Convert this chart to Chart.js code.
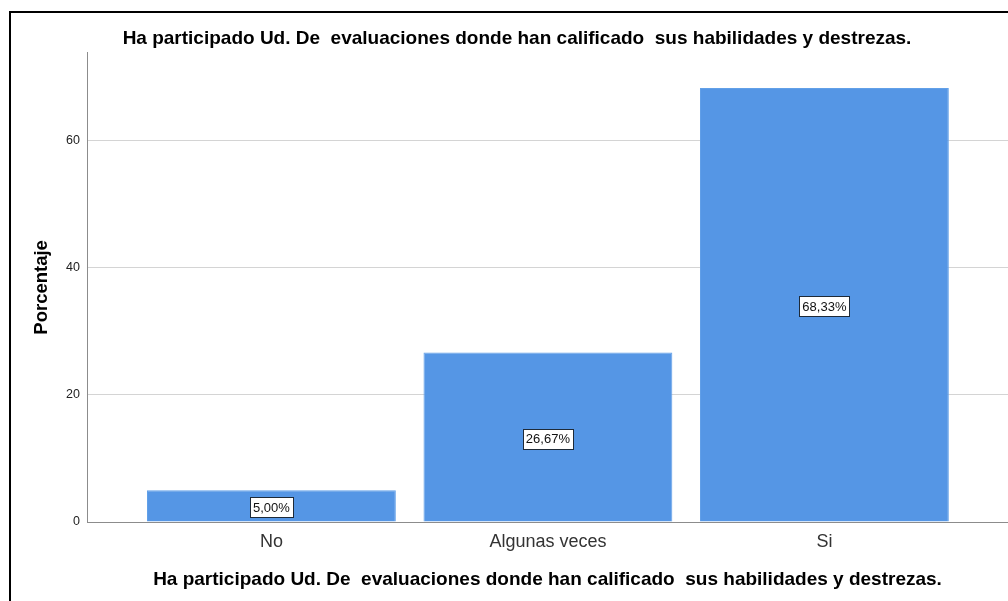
<!DOCTYPE html>
<html>
<head>
<meta charset="utf-8">
<script src="https://cdn.jsdelivr.net/npm/chart.js@4.4.1/dist/chart.umd.min.js"></script>
<style>
    body { margin: 0; background: #fff; }
    #wrap { position: relative; width: 1008px; height: 601px; overflow: hidden; }
    #myChart { position: absolute; left: 0; top: 0; }
    #frame { position: absolute; left: 9px; top: 11px; width: 1010px; height: 610px; border: 2px solid #000; pointer-events: none; }
</style>
</head>
<body>
<div id="wrap">
    <canvas id="myChart" width="1008" height="601"></canvas>
    <div id="frame"></div>
</div>
<script>
const categories = ['No', 'Algunas veces', 'Si'];
const percentages = [5.00, 26.67, 68.33];
const yTicks = [0, 20, 40, 60];
const titleText = 'Ha participado Ud. De  evaluaciones donde han calificado  sus habilidades y destrezas.';

const fontFamily = '"Liberation Sans", Arial, sans-serif';

// white boxed value labels in the middle of each bar
const barLabels = {
    id: 'barLabels',
    afterDatasetsDraw(chart) {
        const ctx = chart.ctx;
        const meta = chart.getDatasetMeta(0);
        ctx.save();
        ctx.font = '13px ' + fontFamily;
        ctx.textAlign = 'center';
        ctx.textBaseline = 'middle';
        meta.data.forEach((bar, i) => {
            const text = percentages[i].toFixed(2).replace('.', ',') + '%';
            const cx = bar.x;
            const cy = (bar.y + bar.base) / 2 + 1.5;
            const w = Math.round(ctx.measureText(text).width + 6);
            const h = 20;
            const bx = Math.round(cx - w / 2) + 0.5;
            const by = Math.round(cy - h / 2) + 0.5;
            ctx.fillStyle = '#fff';
            ctx.fillRect(bx, by, w, h);
            ctx.strokeStyle = '#1e2a38';
            ctx.lineWidth = 1;
            ctx.strokeRect(bx, by, w, h);
            ctx.fillStyle = '#111';
            ctx.fillText(text, cx, cy + 1);
        });
        ctx.restore();
    }
};

const ctx = document.getElementById('myChart').getContext('2d');

new Chart(ctx, {
    type: 'bar',
    data: {
        datasets: [{
            data: percentages.map((v, i) => ({ x: i, y: v })),
            backgroundColor: '#5596e5',
            borderColor: '#62a0e8',
            borderWidth: 1,
            barPercentage: 0.9,
            categoryPercentage: 1.0
        }]
    },
    options: {
        responsive: false,
        animation: false,
        devicePixelRatio: 1,
        layout: { padding: { left: 26, top: 0, right: 0, bottom: 0 } },
        plugins: {
            legend: { display: false },
            tooltip: { enabled: false },
            title: {
                display: true,
                text: titleText,
                color: '#000',
                font: { family: fontFamily, size: 19, weight: 'bold' },
                padding: { top: 27, bottom: 3 }
            }
        },
        scales: {
            x: {
                type: 'linear',
                offset: false,
                min: -0.667,
                max: 2.664,
                afterBuildTicks: (scale) => {
                    scale.ticks = categories.map((c, i) => ({ value: i }));
                },
                afterFit: (scale) => { scale.height = 79; },
                grid: { display: false, drawTicks: false },
                border: { display: true, color: '#8c8c8c', width: 1 },
                ticks: {
                    autoSkip: false,
                    maxRotation: 0,
                    padding: 9,
                    color: '#333',
                    font: { family: fontFamily, size: 18 },
                    callback: (value) => categories[value]
                },
                title: {
                    display: true,
                    text: titleText,
                    color: '#000',
                    font: { family: fontFamily, size: 19, weight: 'bold' },
                    padding: { top: 0, bottom: 10 }
                }
            },
            y: {
                min: 0,
                max: 73.86,
                afterBuildTicks: (scale) => {
                    scale.ticks = yTicks.map(v => ({ value: v }));
                },
                afterFit: (scale) => { scale.width = 61; },
                grid: { color: '#d4d4d4', lineWidth: 1, drawTicks: false },
                border: { display: true, color: '#8c8c8c', width: 1 },
                ticks: {
                    padding: 7,
                    color: '#222',
                    font: { family: fontFamily, size: 12.5 }
                },
                title: {
                    display: true,
                    text: 'Porcentaje',
                    color: '#000',
                    font: { family: fontFamily, size: 18.5, weight: 'bold' },
                    padding: { top: 5, bottom: 0 }
                }
            }
        }
    },
    plugins: [barLabels]
});
</script>
</body>
</html>
